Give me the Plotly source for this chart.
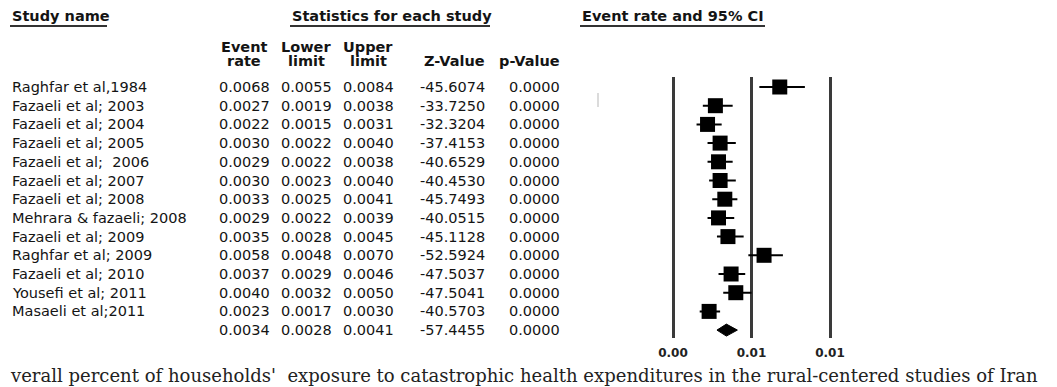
import plotly.graph_objects as go

# ---------------- data ----------------
studies = ["Raghfar et al,1984", "Fazaeli et al; 2003", "Fazaeli et al; 2004",
           "Fazaeli et al; 2005", "Fazaeli et al;\u00a0 2006", "Fazaeli et al; 2007",
           "Fazaeli et al; 2008", "Mehrara & fazaeli; 2008", "Fazaeli et al; 2009",
           "Raghfar et al; 2009", "Fazaeli et al; 2010", "Yousefi et al; 2011",
           "Masaeli et al;2011", ""]
event_rate = [0.0068, 0.0027, 0.0022, 0.0030, 0.0029, 0.0030, 0.0033,
              0.0029, 0.0035, 0.0058, 0.0037, 0.0040, 0.0023, 0.0034]
lower_limit = [0.0055, 0.0019, 0.0015, 0.0022, 0.0022, 0.0023, 0.0025,
               0.0022, 0.0028, 0.0048, 0.0029, 0.0032, 0.0017, 0.0028]
upper_limit = [0.0084, 0.0038, 0.0031, 0.0040, 0.0038, 0.0040, 0.0041,
               0.0039, 0.0045, 0.0070, 0.0046, 0.0050, 0.0030, 0.0041]
z_value = [-45.6074, -33.7250, -32.3204, -37.4153, -40.6529, -40.4530, -45.7493,
           -40.0515, -45.1128, -52.5924, -47.5037, -47.5041, -40.5703, -57.4455]
p_value = [0.0000] * 14
tick_vals = [0.0, 0.005, 0.01]
tick_text = ["0.00", "0.01", "0.01"]
caption = ("verall percent of households'\u00a0 exposure to catastrophic health "
           "expenditures in the rural-centered studies of Iran")

# ---------------- layout constants (target pixels in the screenshot) ----------------
W, H = 1057, 387
OFF = 8.0                            # page body margin offset
ROW0, STEP = 87.0, 18.7
PLOT_TOP, PLOT_BOT = 77.0, 338.0
X0PX, X1PX = 673.0, 830.0           # pixel of 0.00 and 0.01
PAD = 0.0002
px_per_unit = (X1PX - X0PX) / 0.01

def px(x):
    return (x - OFF) / W

def py(y):
    return (H - (y - OFF)) / H

FONT = "DejaVu Sans"
SZ = 14.5
TXT = "#141414"

n = len(studies)
rows = list(range(n))
nstud = n - 1

fig = go.Figure()

# study squares with CI
fig.add_trace(go.Scatter(
    x=event_rate[:nstud], y=rows[:nstud], mode="markers",
    marker=dict(symbol="square", size=15, color="black"),
    error_x=dict(type="data", symmetric=False,
                 array=[u - e for u, e in zip(upper_limit[:nstud], event_rate[:nstud])],
                 arrayminus=[e - l for e, l in zip(event_rate[:nstud], lower_limit[:nstud])],
                 color="black", thickness=2, width=0),
    hoverinfo="skip", cliponaxis=False))

# summary diamond
dh = 0.32
s = nstud
fig.add_trace(go.Scatter(
    x=[lower_limit[s], event_rate[s], upper_limit[s], event_rate[s], lower_limit[s]],
    y=[rows[s], rows[s] - dh, rows[s], rows[s] + dh, rows[s]],
    mode="lines", fill="toself", fillcolor="black",
    line=dict(color="black", width=1), hoverinfo="skip"))

ann = []
def add(text, x, y, xanchor, yref="y", bold=False, size=SZ, family=FONT, color=TXT):
    ann.append(dict(text=text, x=x, y=y, xref="paper", yref=yref,
                    xanchor=xanchor, yanchor="middle", showarrow=False,
                    font=dict(family=family, size=size, color=color,
                              weight="bold" if bold else "normal")))

# table body
for i in rows:
    if studies[i]:
        add(studies[i], px(10), rows[i], "left")
    add(f"{event_rate[i]:.4f}", px(244), rows[i], "center")
    add(f"{lower_limit[i]:.4f}", px(306), rows[i], "center")
    add(f"{upper_limit[i]:.4f}", px(368), rows[i], "center")
    add(f"{z_value[i]:.4f}", px(487), rows[i], "right")
    add(f"{p_value[i]:.4f}", px(562), rows[i], "right")

# headers
add("Study name", px(10), py(16), "left", yref="paper", bold=True)
add("Statistics for each study", px(290), py(16), "left", yref="paper", bold=True)
add("Event rate and 95% CI", px(580), py(16), "left", yref="paper", bold=True)
for cx, l1, l2 in [(244, "Event", "rate"), (306, "Lower", "limit"), (368, "Upper", "limit")]:
    add(l1, px(cx), py(47), "center", yref="paper", bold=True)
    add(l2, px(cx), py(61), "center", yref="paper", bold=True)
add("Z-Value", px(487), py(61), "right", yref="paper", bold=True)
add("p-Value", px(562), py(61), "right", yref="paper", bold=True)

# caption
add(caption, px(OFF), py(375), "left", yref="paper", size=18.05, family="DejaVu Serif", color="#222")

shapes = []
for x0, x1 in [(10, 107), (290, 490), (580, 765)]:
    shapes.append(dict(type="line", xref="paper", yref="paper",
                       x0=px(x0), x1=px(x1), y0=py(26), y1=py(26),
                       line=dict(color="#333", width=2.2)))
# faint scan artifact
shapes.append(dict(type="line", xref="paper", yref="paper",
                   x0=px(598), x1=px(598), y0=py(93), y1=py(107),
                   line=dict(color="#cfcfcf", width=1.5)))

y_top_val = (PLOT_TOP - ROW0) / STEP
y_bot_val = (PLOT_BOT - ROW0) / STEP

fig.update_layout(
    width=W, height=H, margin=dict(l=0, r=0, t=0, b=0, autoexpand=False),
    paper_bgcolor="white", plot_bgcolor="white", showlegend=False,
    annotations=ann, shapes=shapes,
    xaxis=dict(domain=[px(X0PX - PAD * px_per_unit), px(X1PX + PAD * px_per_unit)],
               range=[-PAD, 0.01 + PAD], tickvals=tick_vals, ticktext=tick_text,
               showgrid=True, gridcolor="#3a3a3a", gridwidth=2.5, zeroline=False,
               showline=False, ticks="outside", ticklen=4, tickcolor="rgba(0,0,0,0)",
               tickfont=dict(family=FONT, size=12, color="#222", weight="bold"),
               fixedrange=True, automargin=False),
    yaxis=dict(domain=[py(PLOT_BOT), py(PLOT_TOP)], range=[y_bot_val, y_top_val],
               showgrid=False, zeroline=False, showticklabels=False, showline=False,
               fixedrange=True, automargin=False),
)

fig.write_html("out.html")
